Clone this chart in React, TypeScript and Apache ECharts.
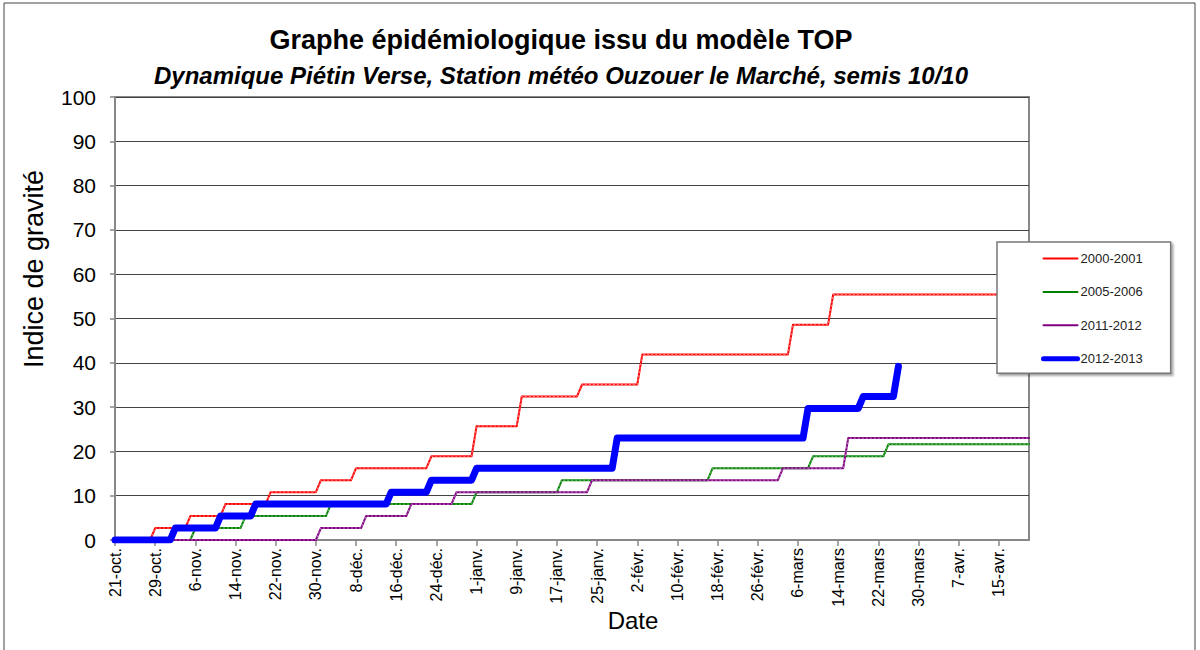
import React, { useEffect, useRef } from "react";
import * as echarts from "echarts";

// Tick labels along the date axis (one every 8 days from 21 Oct.)
const tickLabels = [
  "21-oct.", "29-oct.", "6-nov.", "14-nov.", "22-nov.", "30-nov.", "8-déc.",
  "16-déc.", "24-déc.", "1-janv.", "9-janv.", "17-janv.", "25-janv.", "2-févr.",
  "10-févr.", "18-févr.", "26-févr.", "6-mars", "14-mars", "22-mars", "30-mars",
  "7-avr.", "15-avr.",
];
const tickStep = 8;
const lastDay = 182; // 21-avr.

// Series: day (from 21-oct.) at which the index reaches the new level, and the level
const red2000Days = [8, 15, 22, 31, 41, 48, 63, 72, 81, 93, 105, 135, 143];
const red2000Values = [2.7, 5.4, 8.1, 10.8, 13.5, 16.2, 18.9, 25.7, 32.4, 35.1, 41.9, 48.6, 55.4];

const green2005Days = [16, 26, 43, 72, 89, 119, 139, 154];
const green2005Values = [2.7, 5.4, 8.1, 10.8, 13.5, 16.2, 18.9, 21.6];

const purple2011Days = [41, 50, 59, 68, 95, 133, 146];
const purple2011Values = [2.7, 5.4, 8.1, 10.8, 13.5, 16.2, 23.0];

const blue2012Days = [12, 21, 28, 55, 63, 72, 100, 138, 149, 156];
const blue2012Values = [2.7, 5.4, 8.1, 10.8, 13.5, 16.2, 23.0, 29.7, 32.4, 39.2];
const blue2012LastDay = 156;

const seriesNames = ["2000-2001", "2005-2006", "2011-2012", "2012-2013"];
const seriesColors = ["#FF0000", "#008000", "#800080", "#0000FF"];
const legendLineWidths = [2, 2, 2, 5];

function buildSteps(days: number[], values: number[], endDay: number) {
  const pts: number[][] = [[0, 0]];
  let prev = 0;
  for (let i = 0; i < days.length; i++) {
    pts.push([days[i] - 1, prev]);
    pts.push([days[i], values[i]]);
    prev = values[i];
  }
  if (endDay > days[days.length - 1]) pts.push([endDay, prev]);
  return pts;
}

const FONT = "'Liberation Sans', Arial, sans-serif";

export default function App() {
  const ref = useRef<HTMLDivElement>(null);

  useEffect(() => {
    if (!ref.current) return;
    const chart = echarts.init(ref.current, null, { renderer: "svg" });
    const tickDays = tickLabels.map((_, i) => i * tickStep);

    const mkSeries = (name: string, data: number[][], color: string, width: number) => ({
      name,
      type: "line",
      data,
      symbol: "none",
      showSymbol: false,
      lineStyle: { color, width, cap: "round", join: "round" },
      itemStyle: { color },
      emphasis: { disabled: true },
    });
    // light dotted overlay imitating the point markers of the thin lines
    const mkDots = (id: string, data: number[][]) => ({
      id,
      type: "line",
      data,
      symbol: "none",
      showSymbol: false,
      silent: true,
      lineStyle: { color: "rgba(255,255,255,0.5)", width: 1, type: [2, 2] },
      emphasis: { disabled: true },
    });

    const red = buildSteps(red2000Days, red2000Values, lastDay);
    const green = buildSteps(green2005Days, green2005Values, lastDay);
    const purple = buildSteps(purple2011Days, purple2011Values, lastDay);
    const blue = buildSteps(blue2012Days, blue2012Values, blue2012LastDay);

    chart.setOption({
      animation: false,
      backgroundColor: "#fff",
      textStyle: { fontFamily: FONT },
      title: [
        {
          text: "Graphe épidémiologique issu du modèle TOP",
          left: 556,
          top: 21,
          textAlign: "center",
          textStyle: { fontFamily: FONT, fontSize: 27, fontWeight: "bold", color: "#000" },
        },
        {
          text: "Dynamique Piétin Verse, Station météo Ouzouer le Marché, semis 10/10",
          left: 556,
          top: 58,
          textAlign: "center",
          textStyle: { fontFamily: FONT, fontSize: 24, fontWeight: "bold", fontStyle: "italic", color: "#000" },
        },
      ],
      grid: {
        left: 115,
        right: 171,
        top: 97,
        bottom: 110,
        show: true,
        borderColor: "#888",
        borderWidth: 2,
        backgroundColor: "#fff",
      },
      legend: {
        data: seriesNames.map((name, i) => ({
          name,
          lineStyle: { color: seriesColors[i], width: legendLineWidths[i] },
        })),
        orient: "vertical",
        left: 997,
        top: 242,
        itemWidth: 34,
        itemHeight: 14,
        itemGap: 20.4,
        padding: [10, 28, 8, 44],
        backgroundColor: "#fff",
        borderColor: "#777",
        borderWidth: 1.5,
        borderRadius: 0,
        shadowColor: "rgba(0,0,0,0.35)",
        shadowOffsetX: 2,
        shadowOffsetY: 2,
        shadowBlur: 2,
        itemStyle: { opacity: 0 },
        textStyle: { fontFamily: FONT, fontSize: 13, color: "#222", padding: [0, 0, 0, -2] },
        selectedMode: false,
      },
      xAxis: {
        type: "value",
        min: 0,
        max: lastDay,
        interval: tickStep,
        axisLine: { show: true, lineStyle: { color: "#888", width: 2 } },
        axisTick: { show: true, length: 6, lineStyle: { color: "#888", width: 1.5 }, customValues: tickDays },
        splitLine: { show: false },
        axisLabel: {
          customValues: tickDays,
          rotate: 90,
          margin: 8,
          fontFamily: FONT,
          fontSize: 16,
          color: "#000",
          formatter: (v: number) => tickLabels[Math.round(v / tickStep)] ?? "",
        },
      },
      yAxis: {
        type: "value",
        min: 0,
        max: 100,
        interval: 10,
        axisLine: { show: true, lineStyle: { color: "#888", width: 2 } },
        axisTick: { show: true, length: 5, lineStyle: { color: "#888", width: 1.5 } },
        splitLine: { show: true, lineStyle: { color: "#444", width: 1 } },
        axisLabel: { margin: 19, fontFamily: FONT, fontSize: 21, color: "#000" },
      },
      graphic: [
        {
          type: "rect",
          shape: { x: 4, y: 3, width: 1191, height: 720 },
          style: { fill: "none", stroke: "#444", lineWidth: 1 },
          silent: true,
          z: -10,
        },
        {
          type: "text",
          x: 34,
          y: 269,
          rotation: Math.PI / 2,
          style: {
            text: "Indice de gravité",
            fontFamily: FONT,
            fontSize: 27,
            fill: "#000",
            textAlign: "center",
            textVerticalAlign: "middle",
          },
        },
        {
          type: "text",
          x: 633,
          y: 620,
          style: {
            text: "Date",
            fontFamily: FONT,
            fontSize: 24,
            fill: "#000",
            textAlign: "center",
            textVerticalAlign: "middle",
          },
        },
      ],
      series: [
        mkSeries(seriesNames[0], red, seriesColors[0], 2),
        mkDots("dots-2000", red),
        mkSeries(seriesNames[1], green, seriesColors[1], 2),
        mkDots("dots-2005", green),
        mkSeries(seriesNames[2], purple, seriesColors[2], 2),
        mkDots("dots-2011", purple),
        mkSeries(seriesNames[3], blue, seriesColors[3], 7),
      ],
    });

    return () => chart.dispose();
  }, []);

  return (
    <div
      ref={ref}
      style={{ position: "absolute", left: 0, top: 0, width: 1200, height: 650 }}
    />
  );
}
